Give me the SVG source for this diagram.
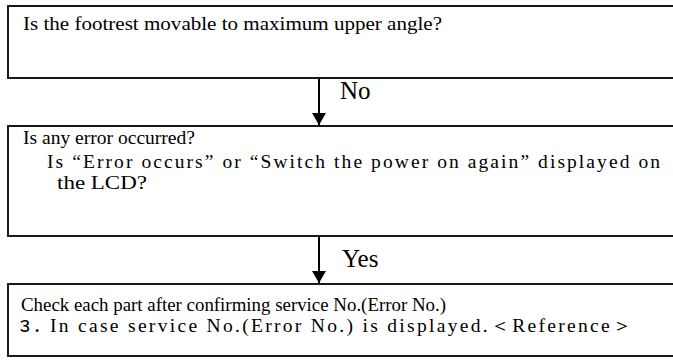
<svg xmlns="http://www.w3.org/2000/svg" width="673" height="361" viewBox="0 0 673 361">
<style>
.box{fill:#fff;stroke:#000;stroke-width:1.8}
.t{font-family:'Liberation Serif','DejaVu Serif',serif;font-size:19.5px;fill:#000}
.lbl{font-family:'Liberation Serif','DejaVu Serif',serif;font-size:25px;fill:#000}
.c{stroke:#000;stroke-width:2;fill:none}
.g{font-family:'Noto Sans CJK JP',sans-serif;font-size:16px;font-weight:500;fill:#000}
</style>
<defs>
<marker id="ah" viewBox="0 0 12 14" refX="12" refY="7" markerWidth="12" markerHeight="14" markerUnits="userSpaceOnUse" orient="auto">
<path d="M0,0 L12,7 L0,14 Z" fill="#000"/>
</marker>
</defs>
<rect width="673" height="361" fill="#fff"/>
<g id="n1">
<rect class="box" x="8" y="6" width="680" height="72"/>
<text class="t" x="23" y="30" textLength="419" lengthAdjust="spacingAndGlyphs">Is the footrest movable to maximum upper angle?</text>
</g>
<g id="n2">
<rect class="box" x="8" y="126" width="680" height="110"/>
<text class="t" x="23" y="144" textLength="172" lengthAdjust="spacingAndGlyphs">Is any error occurred?</text>
<text class="t" x="47" y="168" textLength="613" lengthAdjust="spacing">Is “Error occurs” or “Switch the power on again” displayed on</text>
<text class="t" x="57" y="189" textLength="90" lengthAdjust="spacingAndGlyphs">the LCD?</text>
</g>
<g id="n3">
<rect class="box" x="8" y="284" width="680" height="72"/>
<text class="t" x="21" y="311" textLength="425" lengthAdjust="spacingAndGlyphs">Check each part after confirming service No.(Error No.)</text>
<text class="g" x="17" y="332">３．</text>
<text class="t" x="50" y="332" textLength="582" lengthAdjust="spacing">In case service No.(Error No.) is displayed.＜Reference＞</text>
</g>
<g id="connectors">
<line class="c" x1="319" y1="79" x2="319" y2="125" marker-end="url(#ah)"/>
<text class="lbl" x="340" y="99">No</text>
<line class="c" x1="319" y1="237" x2="319" y2="283" marker-end="url(#ah)"/>
<text class="lbl" x="342" y="267">Yes</text>
</g>
</svg>
